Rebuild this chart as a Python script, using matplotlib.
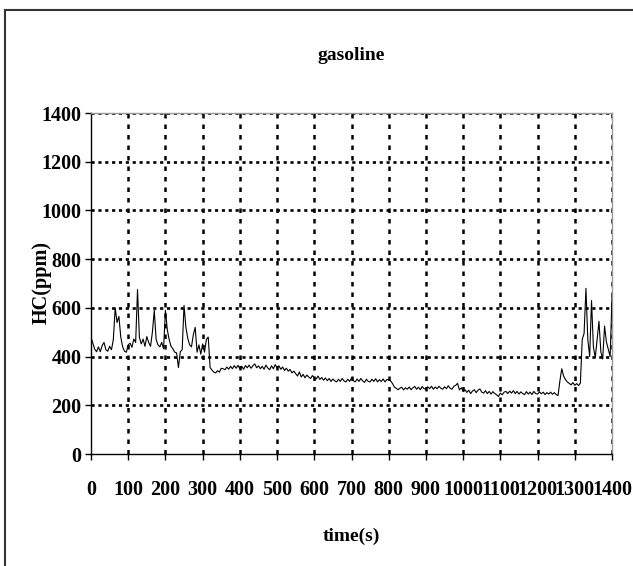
import matplotlib
matplotlib.use("Agg")
import matplotlib.pyplot as plt
from matplotlib.lines import Line2D

# HC concentration sampled every 5 s, 0..1400 s
time_s = list(range(0, 1401, 5))
hc_ppm = [
    480, 455, 430, 420, 440, 420, 445, 458, 428, 422,   # 0-45
    442, 428, 470, 600, 540, 565, 480, 440, 422, 418,   # 50-95
    448, 455, 438, 472, 458, 675, 480, 452, 472, 442,   # 100-145
    482, 458, 442, 500, 590, 470, 448, 440, 458, 432,   # 150-195
    590, 510, 470, 442, 432, 418, 415, 355, 420, 428,   # 200-245
    610, 520, 475, 448, 440, 490, 520, 418, 448, 410,   # 250-295
    452, 418, 470, 480, 355, 345, 336, 333, 342, 336,   # 300-345
    352, 350, 346, 357, 348, 360, 350, 363, 352, 364,   # 350-395
    350, 360, 348, 363, 354, 365, 352, 362, 370, 354,   # 400-445
    362, 350, 360, 348, 365, 353, 346, 362, 350, 367,   # 450-495
    354, 362, 348, 357, 343, 352, 340, 347, 333, 340,   # 500-545
    330, 320, 337, 316, 327, 313, 324, 316, 310, 322,   # 550-595
    313, 308, 320, 306, 314, 303, 312, 301, 310, 298,   # 600-645
    308, 300, 296, 307, 298, 310, 300, 296, 307, 298,   # 650-695
    312, 301, 296, 308, 298, 310, 300, 294, 307, 298,   # 700-745
    296, 307, 298, 309, 296, 305, 298, 308, 296, 306,   # 750-795
    304, 300, 290, 275, 270, 264, 270, 274, 263, 272,   # 800-845
    266, 275, 264, 272, 277, 266, 274, 264, 277, 268,   # 850-895
    266, 276, 268, 278, 266, 275, 268, 278, 270, 266,   # 900-945
    276, 268, 280, 270, 266, 278, 282, 290, 263, 272,   # 950-995
    256, 264, 253, 262, 248, 258, 264, 252, 262, 267,   # 1000-1045
    254, 250, 260, 248, 257, 246, 256, 248, 243, 236,   # 1050-1095
    250, 243, 254, 257, 248, 258, 250, 260, 248, 257,   # 1100-1145
    246, 255, 248, 244, 256, 246, 254, 244, 257, 248,   # 1150-1195
    246, 255, 247, 254, 244, 252, 246, 254, 245, 252,   # 1200-1245
    244, 240, 300, 350, 320, 305, 296, 290, 284, 293,   # 1250-1295
    282, 289, 281, 291, 470, 495, 680, 470, 400, 630,   # 1300-1345
    440, 395, 470, 545, 420, 390, 525, 460, 430, 400,   # 1350-1395
    645,                                                # 1400
]

x_ticks = list(range(0, 1401, 100))
y_ticks = list(range(0, 1401, 200))

title_text = "gasoline"
x_label = "time(s)"
y_label = "HC(ppm)"

plt.rcParams["font.family"] = ["Liberation Serif", "DejaVu Serif"]

W, H = 633, 566
fig = plt.figure(figsize=(W / 100, H / 100), dpi=100)
fig.patch.set_facecolor("white")

ax = fig.add_axes([91 / W, 1 - 454 / H, (612 - 91) / W, (454 - 113) / H])

# dotted major grid
for xv in x_ticks[1:]:
    ax.axvline(xv, color="black", lw=1.8, ls=(0, (1.8, 2.4)), zorder=1)
for yv in y_ticks[1:]:
    ax.axhline(yv, color="black", lw=1.9, ls=(0, (1.2, 1.4)), zorder=1)

ax.plot(time_s, hc_ppm, color="black", lw=0.8, zorder=3)

ax.set_xlim(0, 1400)
ax.set_ylim(0, 1400)
ax.set_xticks(x_ticks)
ax.set_yticks(y_ticks)
ax.set_xticklabels([str(v) for v in x_ticks], fontweight="bold", fontsize=14.5)
ax.set_yticklabels([str(v) for v in y_ticks], fontweight="bold", fontsize=14.5)
ax.tick_params(axis="x", direction="out", length=4, width=1, pad=15)
ax.tick_params(axis="y", direction="out", length=4, width=1, pad=3)

for side in ("top", "right"):
    ax.spines[side].set_color("#9a9a9a")
    ax.spines[side].set_linewidth(1.0)
for side in ("left", "bottom"):
    ax.spines[side].set_color("black")
    ax.spines[side].set_linewidth(1.0)

fig.text(351 / W, 1 - 56 / H, title_text, ha="center", va="center",
         fontsize=14, fontweight="bold")
fig.text(351 / W, 1 - 536 / H, x_label, ha="center", va="center",
         fontsize=14, fontweight="bold")
fig.text(42 / W, 1 - 282 / H, y_label, ha="center", va="center",
         fontsize=14.5, fontweight="bold", rotation=90)

# chart frame
fig.add_artist(Line2D([5 / W, 1.0], [1 - 10 / H, 1 - 10 / H],
                      transform=fig.transFigure, color="#333333", lw=1.5))
fig.add_artist(Line2D([5 / W, 5 / W], [0.0, 1 - 10 / H],
                      transform=fig.transFigure, color="#333333", lw=1.5))

fig.savefig("out.png", dpi=100)
